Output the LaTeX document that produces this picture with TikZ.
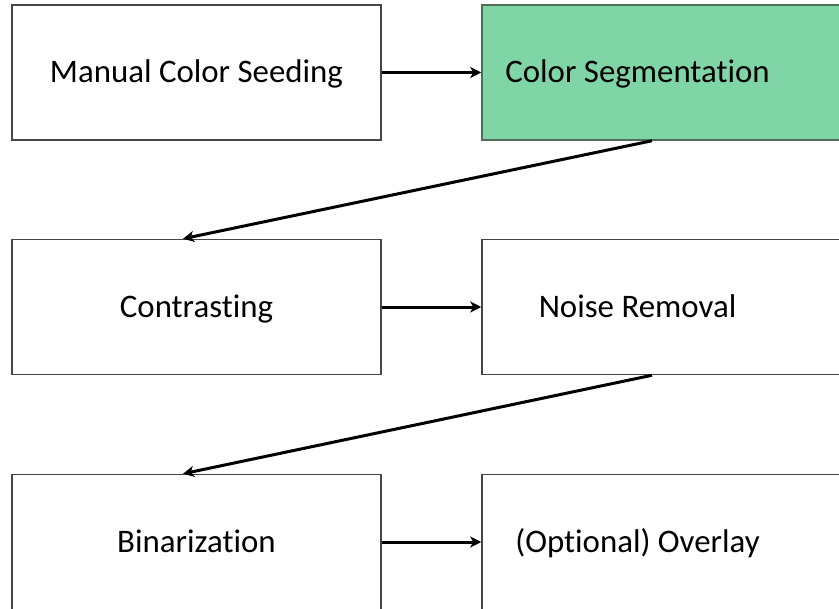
\documentclass[tikz,border=0pt]{standalone}
\usepackage{fontspec}
\setmainfont{Carlito}[Ligatures=NoCommon]
\usetikzlibrary{arrows.meta}
\definecolor{segfill}{RGB}{128,213,166}
\definecolor{segline}{RGB}{80,110,90}
\definecolor{boxline}{RGB}{70,70,70}

\begin{document}
\begin{tikzpicture}[x=1bp, y=-1bp,
  stage/.style={rectangle, draw=boxline, line width=1.5bp, minimum width=369bp,
    minimum height=135bp, inner sep=0pt, text height=21bp, text depth=0bp,
    font=\fontsize{33}{38}\selectfont},
  flow/.style={line width=3bp, -{Stealth[length=11bp, width=11bp, inset=3bp]}}]
\useasboundingbox (0, 0) rectangle (839, 609);
\clip (0, 0) rectangle (839, 609);
\node[stage] (seed) at (196.5, 72.5) {Manual Color Seeding};
\node[stage, fill=segfill, draw=segline] (seg) at (666.5, 72.5) {\hspace{-58bp}Color Segmentation};
\node[stage] (contr) at (196.5, 307) {Contrasting};
\node[stage] (noise) at (666.5, 307) {\hspace{-58bp}Noise Removal};
\node[stage] (bin) at (196.5, 542) {Binarization};
\node[stage] (overlay) at (666.5, 542) {\hspace{-58bp}(Optional) Overlay};
\draw[flow] (seed) -- (seg);
\draw[flow] ([xshift=-14.5bp]seg.south) -- ([xshift=-13.5bp]contr.north);
\draw[flow] (contr) -- (noise);
\draw[flow] ([xshift=-14.5bp]noise.south) -- ([xshift=-13.5bp]bin.north);
\draw[flow] (bin) -- (overlay);
\end{tikzpicture}
\end{document}
